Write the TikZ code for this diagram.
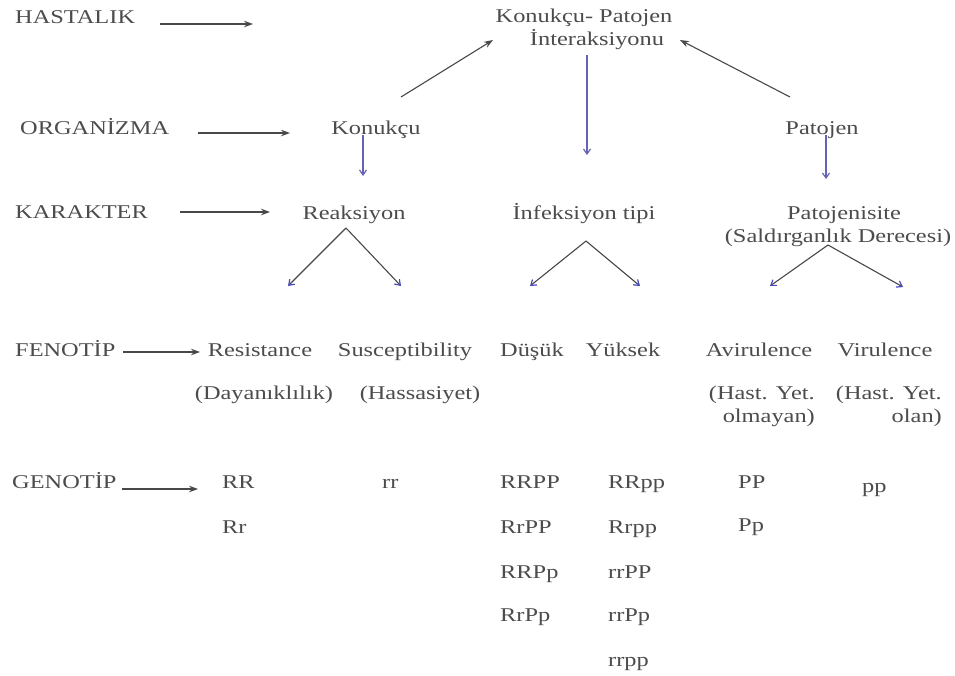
\documentclass[tikz,border=0pt]{standalone}
\usepackage{fontspec}
\setmainfont[FakeStretch=1.25]{Liberation Serif}
\usetikzlibrary{arrows.meta}
\definecolor{txt}{HTML}{4C4C4C}
\definecolor{ln}{HTML}{484848}
\definecolor{bl}{HTML}{6464B4}
\definecolor{bltip}{HTML}{4848C0}
\begin{document}
\begin{tikzpicture}[x=1pt,y=-1pt,
  lbl/.style={inner sep=0pt, text=txt, font=\fontsize{19.5}{22}\selectfont, anchor=base},
  lbw/.style={lbl, anchor=base west},
  lbe/.style={lbl, anchor=base east},
  blk/.style={draw=ln, line width=1.1pt, -{Stealth[length=9pt,width=6.5pt]}},
  blu/.style={draw=bl, line width=1.1pt, -{Straight Barb[length=5pt,width=7pt,line width=1.2pt]}},
  vee/.style={draw=ln, line width=1.1pt, -{Straight Barb[length=5pt,width=7pt,line width=1.2pt,color=bltip]}}]
\useasboundingbox[fill=white] (0,0) rectangle (955,675);
% row labels and texts
\node[lbw] (hastalik) at (15,23) {HASTALIK};
\node[lbl] (kp1) at (584,22) {Konukçu- Patojen};
\node[lbl] (kp2) at (597,45) {İnteraksiyonu};
\node[lbw] (organizma) at (20,134) {ORGANİZMA};
\node[lbl] (konukcu) at (376,134) {Konukçu};
\node[lbl] (patojen) at (822,134) {Patojen};
\node[lbw] (karakter) at (15,218) {KARAKTER};
\node[lbl] (reaksiyon) at (354,219) {Reaksiyon};
\node[lbl] (infeksiyon) at (584,219) {İnfeksiyon tipi};
\node[lbl] (patojenisite) at (844,219) {Patojenisite};
\node[lbl] (saldirgan) at (838,242) {(Saldırganlık Derecesi)};
\node[lbw] (fenotip) at (15,356) {FENOTİP};
\node[lbl] (resistance) at (260,356) {Resistance};
\node[lbl] (suscept) at (405,356) {Susceptibility};
\node[lbl] (dusuk) at (532,356) {Düşük};
\node[lbl] (yuksek) at (623,356) {Yüksek};
\node[lbl] (avir) at (759,356) {Avirulence};
\node[lbl] (vir) at (885,356) {Virulence};
\node[lbl] (dayan) at (264,399) {(Dayanıklılık)};
\node[lbl] (hassas) at (420,399) {(Hassasiyet)};
\node[lbe] (avira) at (815,399) {(Hast. Yet.};
\node[lbe] (avirb) at (815,422) {olmayan)};
\node[lbe] (vira) at (942,399) {(Hast. Yet.};
\node[lbe] (virb) at (942,422) {olan)};
\node[lbw] (genotip) at (12,488) {GENOTİP};
\node[lbw] (gRR) at (222,488) {RR};
\node[lbw] (gRr) at (222,533) {Rr};
\node[lbw] (grr) at (382,488) {rr};
\node[lbw] (ga1) at (500,488) {RRPP};
\node[lbw] (ga2) at (500,533) {RrPP};
\node[lbw] (ga3) at (500,578) {RRPp};
\node[lbw] (ga4) at (500,621) {RrPp};
\node[lbw] (gb1) at (608,488) {RRpp};
\node[lbw] (gb2) at (608,533) {Rrpp};
\node[lbw] (gb3) at (608,578) {rrPP};
\node[lbw] (gb4) at (608,621) {rrPp};
\node[lbw] (gb5) at (608,666) {rrpp};
\node[lbw] (gPP) at (738,488) {PP};
\node[lbw] (gPp) at (738,531) {Pp};
\node[lbw] (gpp) at (862,492) {pp};
% connector end points
\coordinate (ha) at (160,24);  \coordinate (hb) at (253,24);
\coordinate (oa) at (198,133); \coordinate (ob) at (290,133);
\coordinate (ka) at (180,212); \coordinate (kb) at (270,212);
\coordinate (fa) at (123,352); \coordinate (fb) at (200,352);
\coordinate (ga) at (122,489); \coordinate (gb) at (198,489);
\coordinate (kst) at (401,97);  \coordinate (ktp) at (493,40);
\coordinate (pst) at (790,97);  \coordinate (ptp) at (680,40);
\coordinate (ist) at (587,55);  \coordinate (itp) at (587,155);
\coordinate (kdst) at (363,135); \coordinate (kdtp) at (363,176);
\coordinate (pdst) at (826,135); \coordinate (pdtp) at (826,179);
\coordinate (rap) at (346,228); \coordinate (rl) at (288,286); \coordinate (rr) at (401,286);
\coordinate (iap) at (586,241); \coordinate (il) at (530,286); \coordinate (ir) at (640,286);
\coordinate (pap) at (828,245); \coordinate (pl) at (770,286); \coordinate (pr) at (903,287);
% connectors
\draw[blk] (ha) -- (hb);
\draw[blk] (oa) -- (ob);
\draw[blk] (ka) -- (kb);
\draw[blk] (fa) -- (fb);
\draw[blk] (ga) -- (gb);
\draw[blk] (kst) -- (ktp);
\draw[blk] (pst) -- (ptp);
\draw[blu] (ist) -- (itp);
\draw[blu] (kdst) -- (kdtp);
\draw[blu] (pdst) -- (pdtp);
\draw[vee] (rap) -- (rl);
\draw[vee] (rap) -- (rr);
\draw[vee] (iap) -- (il);
\draw[vee] (iap) -- (ir);
\draw[vee] (pap) -- (pl);
\draw[vee] (pap) -- (pr);
\end{tikzpicture}
\end{document}
